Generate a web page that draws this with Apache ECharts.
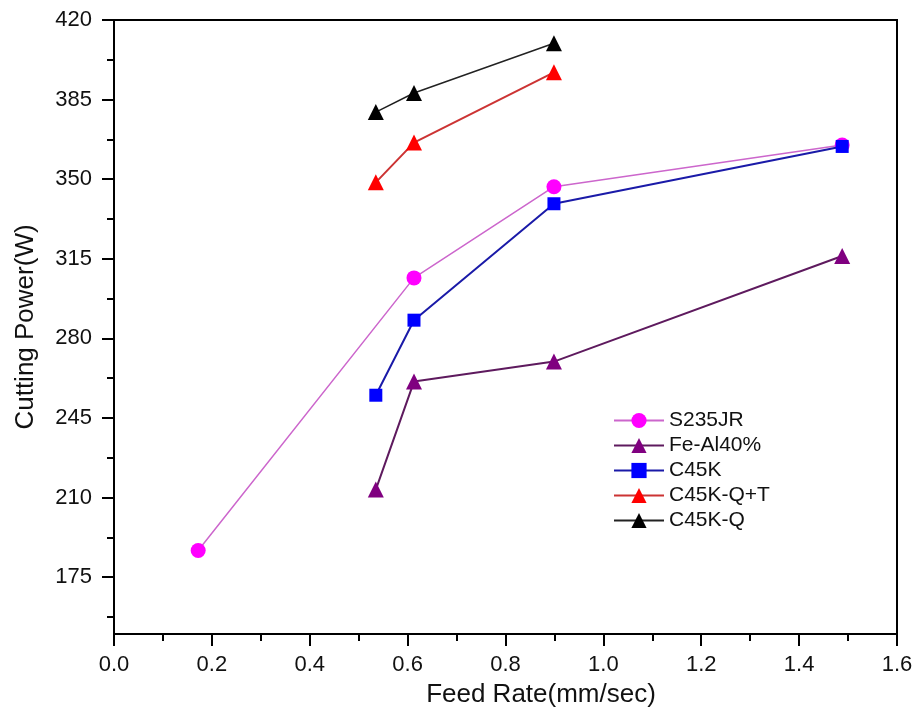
<!DOCTYPE html>
<html>
<head>
<meta charset="utf-8">
<script src="https://cdn.jsdelivr.net/npm/echarts@6/dist/echarts.min.js"></script>
<style>html,body{margin:0;padding:0;background:#fff;}#c{width:916px;height:710px;}</style>
</head>
<body>
<div id="c"></div>
<script>
// ---- data ----
const xS235 = [0.172, 0.613, 0.899, 1.488];
const yS235 = [186.7, 306.6, 346.7, 365.0];
const xFeAl = [0.535, 0.613, 0.899, 1.488];
const yFeAl = [213.5, 261.0, 269.8, 316.2];
const xC45K = [0.535, 0.613, 0.899, 1.488];
const yC45K = [255.0, 288.0, 339.2, 364.4];
const xC45KQT = [0.535, 0.613, 0.899];
const yC45KQT = [348.6, 366.1, 397.0];
const xC45KQ = [0.535, 0.613, 0.899];
const yC45KQ = [379.5, 387.9, 409.8];
const yMajorTicks = [175, 210, 245, 280, 315, 350, 385, 420];
const yMinorTicks = [157.5, 192.5, 227.5, 262.5, 297.5, 332.5, 367.5, 402.5];
const seriesNames = ['S235JR', 'Fe-Al40%', 'C45K', 'C45K-Q+T', 'C45K-Q'];

function pairs(xs, ys) { return xs.map((x, i) => [x, ys[i]]); }

const font = 'Liberation Sans, Arial, sans-serif';
const chart = echarts.init(document.getElementById('c'), null, {renderer: 'canvas'});
chart.setOption({
  animation: false,
  backgroundColor: '#fff',
  grid: {left: 114, right: 19, top: 20, bottom: 76, show: true, borderColor: '#000', borderWidth: 2,
         containLabel: false, outerBoundsMode: 'none'},
  legend: {
    orient: 'vertical', left: 613, top: 410, padding: 0,
    itemWidth: 50, itemHeight: 19, itemGap: 4,
    textStyle: {fontFamily: font, fontSize: 21, color: '#111', lineHeight: 21},
    data: seriesNames
  },
  xAxis: {
    type: 'value', min: 0, max: 1.6, interval: 0.2,
    name: 'Feed Rate(mm/sec)', nameLocation: 'middle', nameGap: 48,
    nameTextStyle: {fontFamily: font, fontSize: 26, color: '#111', padding: [0, 0, 0, 71]},
    axisLine: {show: true, lineStyle: {color: '#000', width: 2}},
    axisTick: {show: true, length: 12, lineStyle: {color: '#000', width: 2}},
    minorTick: {show: true, splitNumber: 2, length: 7, lineStyle: {color: '#000', width: 2}},
    axisLabel: {fontFamily: font, fontSize: 22, color: '#111', margin: 20, formatter: v => v.toFixed(1)},
    splitLine: {show: false}
  },
  yAxis: [{
    type: 'value', min: 150, max: 420,
    name: 'Cutting Power(W)', nameLocation: 'middle', nameGap: 75,
    nameTextStyle: {fontFamily: font, fontSize: 26, color: '#111'},
    axisLine: {show: true, lineStyle: {color: '#000', width: 2}},
    axisTick: {show: true, length: 12, lineStyle: {color: '#000', width: 2}, customValues: yMajorTicks},
    axisLabel: {fontFamily: font, fontSize: 22, color: '#111', margin: 22, customValues: yMajorTicks},
    splitLine: {show: false}
  }, {
    type: 'value', min: 150, max: 420, position: 'left',
    axisLine: {show: false},
    axisTick: {show: true, length: 7, lineStyle: {color: '#000', width: 2}, customValues: yMinorTicks},
    axisLabel: {show: false},
    splitLine: {show: false}
  }],
  series: [
    {name: 'S235JR', type: 'line', data: pairs(xS235, yS235), symbol: 'circle', symbolSize: 15,
     itemStyle: {color: '#ff00ff'}, lineStyle: {color: '#cc66cc', width: 1.5}, z: 3},
    {name: 'Fe-Al40%', type: 'line', data: pairs(xFeAl, yFeAl), symbol: 'triangle', symbolSize: 16,
     itemStyle: {color: '#800080'}, lineStyle: {color: '#5e1a5e', width: 2}},
    {name: 'C45K', type: 'line', data: pairs(xC45K, yC45K), symbol: 'rect', symbolSize: 13,
     itemStyle: {color: '#0000ff'}, lineStyle: {color: '#1a1aa8', width: 2}, z: 4},
    {name: 'C45K-Q+T', type: 'line', data: pairs(xC45KQT, yC45KQT), symbol: 'triangle', symbolSize: 16,
     itemStyle: {color: '#ff0000'}, lineStyle: {color: '#cc3333', width: 2}},
    {name: 'C45K-Q', type: 'line', data: pairs(xC45KQ, yC45KQ), symbol: 'triangle', symbolSize: 16,
     itemStyle: {color: '#000000'}, lineStyle: {color: '#222222', width: 1.5}}
  ]
});
</script>
</body>
</html>
